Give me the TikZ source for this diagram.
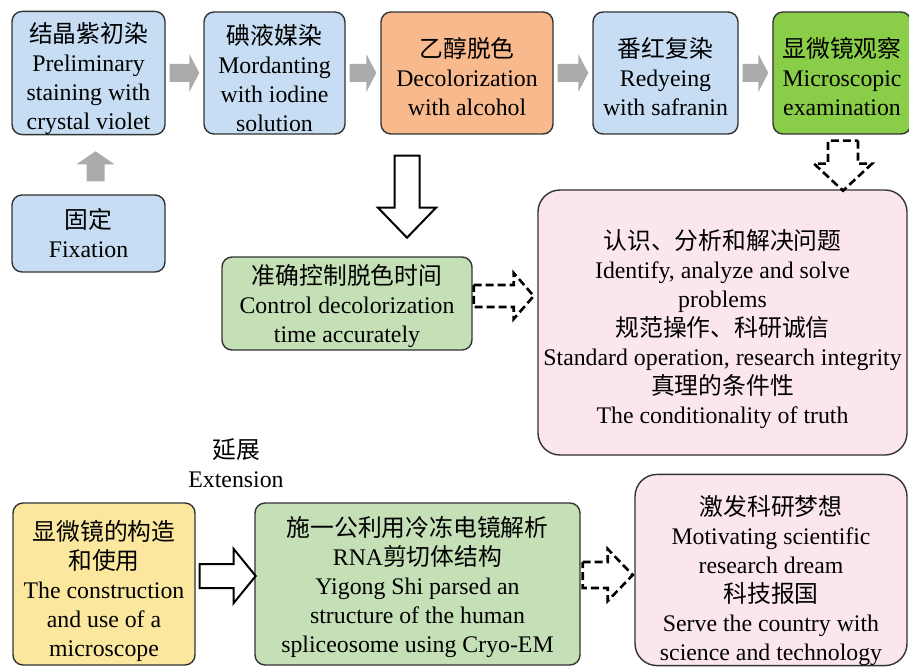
\documentclass[tikz,border=0pt]{standalone}
\usepackage{fontspec}
\setmainfont{Liberation Serif}
\newfontfamily\cjk{Noto Sans CJK SC}
\usetikzlibrary{calc}
\definecolor{cblue}{HTML}{C6DDF3}
\definecolor{corange}{HTML}{F8B98C}
\definecolor{cgreen}{HTML}{8ACD48}
\definecolor{clgreen}{HTML}{C5E0B6}
\definecolor{cpink}{HTML}{FBE6F0}
\definecolor{cyellow}{HTML}{FCE79E}
\definecolor{cgray}{HTML}{ABABAB}
\definecolor{cline}{HTML}{333333}
% pushes the text block of a box down by #1pt
\newcommand\sh[1]{\rule{0pt}{\dimexpr21pt+#1pt*2\relax}}
\newcommand\blockarrow[6]{%
  \path (#2) coordinate (ba) (#3) coordinate (bt) ($(bt)!#6!(ba)$) coordinate (bh);
  \draw[#1] ($(ba)!#4!90:(bt)$) -- ($(bh)!#4!-90:(ba)$) -- ($(bh)!#5!-90:(ba)$) -- (bt)
    -- ($(bh)!#5!90:(ba)$) -- ($(bh)!#4!90:(ba)$) -- ($(ba)!#4!-90:(bt)$) -- cycle;}
\begin{document}
\begin{tikzpicture}[x=1pt,y=-1pt,
  box/.style={draw=cline, line width=1.4pt, rounded corners=10pt, align=center,
    inner sep=0pt, font=\fontsize{23.8}{29}\selectfont},
  txt/.style={align=center, inner sep=0pt, font=\fontsize{23.8}{29}\selectfont},
  grayarrow/.style={fill=cgray, draw=none},
  whitearrow/.style={fill=white, draw=black, line width=2pt, line join=miter},
  dasharrow/.style={fill=white, draw=black, line width=2.6pt, dash pattern=on 8pt off 4pt, line join=miter}]
\useasboundingbox (0,0) rectangle (909,668);
\fill[white] (0,0) rectangle (909,668);
% top row
\node[box, fill=cblue, minimum width=153pt, minimum height=122pt] (b1) at (88.5,73)
  {\sh{5}{\cjk 结晶紫初染}\\Preliminary\\staining with\\crystal violet};
\node[box, fill=cblue, minimum width=141pt, minimum height=122pt] (b2) at (274.5,73)
  {\sh{5}{\cjk 碘液媒染}\\Mordanting\\with iodine\\solution};
\node[box, fill=corange, minimum width=172pt, minimum height=122pt] (b3) at (467,73)
  {\sh{3.5}{\cjk 乙醇脱色}\\Decolorization\\with alcohol};
\node[box, fill=cblue, minimum width=145pt, minimum height=122pt] (b4) at (665.5,73)
  {\sh{3.5}{\cjk 番红复染}\\Redyeing\\with safranin};
\node[box, fill=cgreen, minimum width=138pt, minimum height=122pt] (b5) at (842,73)
  {\sh{3.5}{\cjk 显微镜观察}\\Microscopic\\examination};
\node[box, fill=cblue, minimum width=153pt, minimum height=77pt] (fix) at (88.5,233.5)
  {{\cjk 固定}\\Fixation};
% middle
\node[box, fill=clgreen, minimum width=250pt, minimum height=93pt] (gc) at (347,303.5)
  {\sh{2}{\cjk 准确控制脱色时间}\\Control decolorization\\time accurately};
\node[box, fill=cpink, minimum width=369pt, minimum height=265pt, rounded corners=22pt] (pk) at (722.5,322.5)
  {\sh{6}{\cjk 认识、分析和解决问题}\\Identify, analyze and solve\\problems\\{\cjk 规范操作、科研诚信}\\Standard operation, research integrity\\{\cjk 真理的条件性}\\The conditionality of truth};
% extension
\node[txt] (ext) at (236,463) {{\cjk 延展}\\Extension};
% bottom row
\node[box, fill=cyellow, minimum width=182pt, minimum height=162pt] (yel) at (104,584)
  {\sh{7}{\cjk 显微镜的构造}\\{\cjk 和使用}\\The construction\\and use of a\\microscope};
\node[box, fill=clgreen, minimum width=325pt, minimum height=162pt] (gb) at (417.5,584)
  {\sh{3}{\cjk 施一公利用冷冻电镜解析}\\RNA{\cjk 剪切体结构}\\Yigong Shi parsed an\\structure of the human\\spliceosome using Cryo-EM};
\node[box, fill=cpink, minimum width=272pt, minimum height=190pt, rounded corners=22pt] (pb) at (771,570)
  {\sh{10}{\cjk 激发科研梦想}\\Motivating scientific\\research dream\\{\cjk 科技报国}\\Serve the country with\\science and technology};
% arrows
\blockarrow{grayarrow}{$(b1.east)+(4,0)$}{$(b2.west)+(-4,0)$}{9pt}{19pt}{10pt}
\blockarrow{grayarrow}{$(b2.east)+(4,0)$}{$(b3.west)+(-4,0)$}{9pt}{19pt}{10pt}
\blockarrow{grayarrow}{$(b3.east)+(4,0)$}{$(b4.west)+(-4,0)$}{9pt}{19pt}{10pt}
\blockarrow{grayarrow}{$(b4.east)+(4,0)$}{$(b5.west)+(-4,0)$}{9pt}{19pt}{10pt}
\blockarrow{grayarrow}{$(fix.north)+(7,-13)$}{$(b1.south)+(7,16)$}{9pt}{19pt}{13pt}
\blockarrow{whitearrow}{$(b3.south)+(-60,21)$}{$(b3.south)+(-60,103)$}{12.5pt}{29pt}{30pt}
\blockarrow{dasharrow}{$(b5.south)+(1,6)$}{$(b5.south)+(1,56)$}{15pt}{29pt}{27pt}
\blockarrow{dasharrow}{$(gc.east)+(1,-7.5)$}{$(gc.east)+(61,-7.5)$}{11pt}{23pt}{20pt}
\blockarrow{whitearrow}{$(yel.east)+(4,-8)$}{$(yel.east)+(60,-8)$}{12pt}{27pt}{22pt}
\blockarrow{dasharrow}{$(gb.east)+(2,-9)$}{$(gb.east)+(52,-9)$}{13pt}{26pt}{25pt}
\end{tikzpicture}
\end{document}
